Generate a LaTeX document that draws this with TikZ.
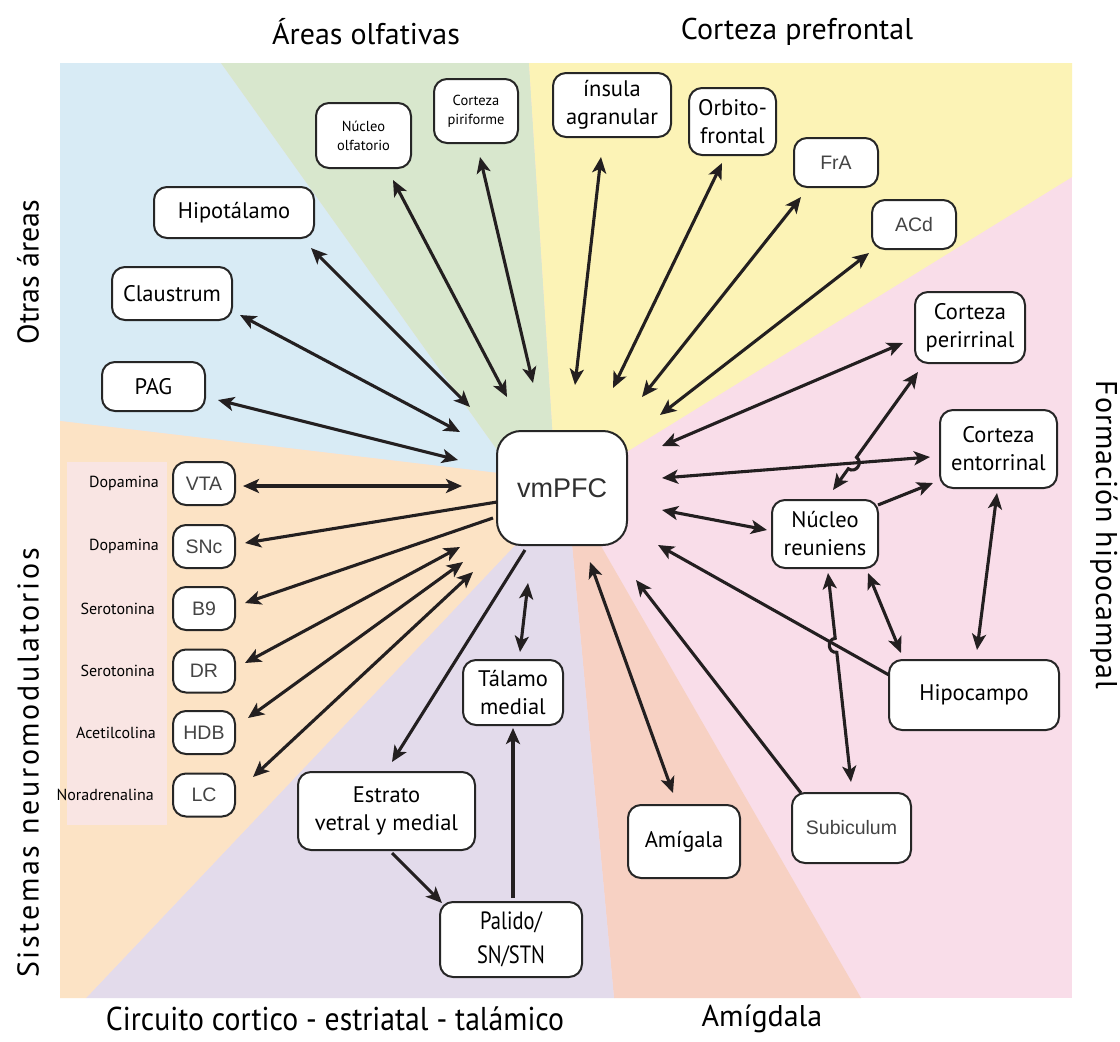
\documentclass[tikz,border=0pt]{standalone}
\usepackage{fontspec}
\setmainfont{PT Sans}
\newfontfamily\arialf{Liberation Sans}
\usetikzlibrary{arrows.meta,calc}
\definecolor{cblue}{HTML}{D8EBF5}
\definecolor{cgreen}{HTML}{D8E7CD}
\definecolor{cyellow}{HTML}{FCF3B6}
\definecolor{cpink}{HTML}{F9DDE9}
\definecolor{corange}{HTML}{FCE3C5}
\definecolor{cpurple}{HTML}{E3DBEB}
\definecolor{csalmon}{HTML}{F7D1C3}
\definecolor{cpale}{HTML}{F9E5E3}
\definecolor{boxc}{HTML}{262626}
\definecolor{arrc}{HTML}{231F20}
\definecolor{greytxt}{HTML}{444444}
\begin{document}
\begin{tikzpicture}[x=1pt,y=-1pt,
  box/.style={draw=boxc, line width=2pt, rounded corners=13pt, fill=white, align=center, inner sep=0pt},
  sz/.style 2 args={minimum width=#1pt, minimum height=#2pt},
  both/.style={line width=3.1pt, draw=arrc, {Stealth[length=16pt,width=14pt,inset=4pt]}-{Stealth[length=16pt,width=14pt,inset=4pt]}},
  one/.style={line width=3.1pt, draw=arrc, -{Stealth[length=16pt,width=14pt,inset=4pt]}},
  ttl/.style={font=\fontsize{30}{34}\selectfont},
  nt/.style={font=\fontsize{16}{19}\selectfont, anchor=east, inner sep=0pt},
  sm/.style={font=\fontsize{14.5}{19}\selectfont},
  md/.style={font=\fontsize{22.5}{28}\selectfont},
  ar/.style={font=\arialf\fontsize{19.5}{22}\selectfont, text=greytxt}
]
\useasboundingbox (0,0) rectangle (1120,1042);
\fill[white] (0,0) rectangle (1120,1042);
% sectors
\fill[cpink] (60,63) rectangle (1072,998);
\fill[cblue] (60,63) -- (221,63) -- (515,475) -- (60,421) -- cycle;
\fill[cgreen] (221,63) -- (529,63) -- (555,470) -- (515,475) -- cycle;
\fill[cyellow] (529,63) -- (1072,63) -- (1072,177) -- (620,456) -- (555,470) -- cycle;
\fill[csalmon] (586,520) -- (861,998) -- (614,998) -- (566,480) -- cycle;
\fill[cpurple] (566,480) -- (614,998) -- (86,998) -- (520,540) -- cycle;
\fill[corange] (60,421) -- (515,475) -- (520,540) -- (86,998) -- (60,998) -- cycle;
\fill[cpale] (67,462) rectangle (167,825);

% titles
\node[ttl] (t1) at (366,32) {Áreas olfativas};
\node[ttl] (t2) at (797,32) {Corteza prefrontal};
\node[ttl, rotate=90] (t3) at (28,272) {Otras áreas};
\node[ttl, rotate=90] (t4) at (28,763) {\addfontfeatures{LetterSpace=9}Sistemas neuromodulatorios};
\node[ttl, rotate=-90] (t5) at (1104,535) {\addfontfeatures{LetterSpace=3}Formación hipocampal};
\node[ttl, font=\fontsize{33}{36}\selectfont] (t6) at (335,1019) {\scalebox{0.9}[1]{Circuito cortico - estriatal - talámico}};
\node[ttl] (t7) at (762,1019) {Amígdala};

% nodes
\node[box, sz={130}{114}, rounded corners=24pt, font=\arialf\fontsize{27}{30}\selectfont, text=greytxt!70!black] (vmPFC) at (562,488) {vmPFC};
\node[box, sz={95}{65}, sm] (nucolf) at (363.5,135.5) {Núcleo\\olfatorio};
\node[box, sz={84}{64}, sm] (piri) at (476,111) {Corteza\\piriforme};
\node[box, sz={118}{64}, md] (insula) at (612,105) {ínsula\\agranular};
\node[box, sz={87}{67}, md] (orbito) at (732.5,121.5) {Orbito-\\frontal};
\node[box, sz={84}{49}, ar] (fra) at (836,162.5) {FrA};
\node[box, sz={84}{49}, ar] (acd) at (914,224.5) {ACd};
\node[box, sz={160}{51}, md] (hipot) at (234,212.5) {Hipotálamo};
\node[box, sz={120}{53}, md] (claus) at (172,293.5) {Claustrum};
\node[box, sz={103}{49}, md] (pag) at (153.5,386.5) {PAG};
\node[box, sz={62}{43}, ar] (vta) at (204,483.5) {VTA};
\node[box, sz={62}{43}, ar] (snc) at (204,546.5) {SNc};
\node[box, sz={62}{43}, ar] (b9) at (204,608.5) {B9};
\node[box, sz={62}{43}, ar] (dr) at (204,671) {DR};
\node[box, sz={62}{43}, ar] (hdb) at (204,732.5) {HDB};
\node[box, sz={62}{43}, ar] (lc) at (204,795) {LC};
\node[nt] (l1) at (159,483.5) {Dopamina};
\node[nt] (l2) at (159,546.5) {Dopamina};
\node[nt] (l3) at (155,608.5) {Serotonina};
\node[nt] (l4) at (155,671) {Serotonina};
\node[nt] (l5) at (156,732.5) {Acetilcolina};
\node[nt] (l6) at (154,795) {Noradrenalina};
\node[box, sz={110}{71}, md] (peri) at (970,327.5) {Corteza\\perirrinal};
\node[box, sz={117}{78}, md] (ento) at (998.5,449) {Corteza\\entorrinal};
\node[box, sz={106}{68}, md] (reun) at (825,534) {Núcleo\\reuniens};
\node[box, sz={170}{70}, md] (hipo) at (974,695) {Hipocampo};
\node[box, sz={119}{70}, ar] (subi) at (851.5,828) {Subiculum};
\node[box, sz={112}{73}, md] (amig) at (684,841.5) {Amígala};
\node[box, sz={100}{65}, md] (tal) at (513,692.5) {Tálamo\\medial};
\node[box, sz={177}{78}, md] (estr) at (386.5,811) {Estrato\\vetral y medial};
\node[box, sz={142}{75}, font=\fontsize{25}{34}\selectfont] (pal) at (511,939.5) {\scalebox{0.82}[1]{Palido/}\\\scalebox{0.82}[1]{SN/STN}};

% connectors: top
\draw[both] ($(nucolf)+(29.5,44.5)$) -- ($(vmPFC)+(-55,-91)$);
\draw[both] ($(piri)+(4,46)$) -- ($(vmPFC)+(-29,-105)$);
\draw[both] ($(insula)+(-11,52)$) -- ($(vmPFC)+(13,-103)$);
\draw[both] ($(orbito)+(-10.5,41.5)$) -- ($(vmPFC)+(51,-100)$);
\draw[both] ($(fra)+(-35,34.5)$) -- ($(vmPFC)+(80,-91)$);
\draw[both] ($(acd)+(-45,28.5)$) -- ($(vmPFC)+(98,-73)$);
% right
\draw[both] ($(peri)+(-67,15.5)$) -- ($(vmPFC)+(100,-42)$);
\draw[both] ($(ento)+(-68.5,8)$) -- ($(vmPFC)+(100,-10)$);
\draw[both] ($(reun)+(-58,-4)$) -- ($(vmPFC)+(100,22)$);
\draw[one] ($(hipo)+(-85,-20)$) -- ($(vmPFC)+(96,57)$);
\draw[one] ($(subi)+(-50.5,-35)$) -- ($(vmPFC)+(74,92)$);
\draw[both] ($(amig)+(-11,-48.5)$) -- ($(vmPFC)+(28,74)$);
% left
\draw[both] ($(hipot)+(77,35.5)$) -- ($(vmPFC)+(-92,-81)$);
\draw[both] ($(claus)+(68,21.5)$) -- ($(vmPFC)+(-102,-56)$);
\draw[both] ($(pag)+(64.5,13.5)$) -- ($(vmPFC)+(-104,-28)$);
\draw[both] ($(vta)+(39,2.5)$) -- ($(vmPFC)+(-100,-2)$);
\draw[one] ($(vmPFC)+(-65,14)$) -- ($(snc)+(41,-3.5)$);
\draw[one] ($(vmPFC)+(-69,30)$) -- ($(b9)+(41,-5.5)$);
\draw[both] ($(vmPFC)+(-102,59)$) -- ($(dr)+(41,-8)$);
\draw[both] ($(vmPFC)+(-99,74)$) -- ($(hdb)+(44,-14.5)$);
\draw[both] ($(vmPFC)+(-89,84)$) -- ($(lc)+(49,-18)$);
% bottom
\draw[one] ($(vmPFC)+(-37,62)$) -- ($(estr)+(5.5,-49)$);
\draw[both] ($(vmPFC)+(-34,95)$) -- ($(tal)+(7,-40.5)$);
\draw[one] ($(estr)+(5.5,42)$) -- ($(pal)+(-69,-36.5)$);
\draw[one] ($(pal)+(2,-41.5)$) -- ($(tal)+(0,35.5)$);
% hippocampal formation internal
\draw[both] ($(peri)+(-52,44.5)$) -- (856.5,457.3) .. controls (863.8,462.6) and (855.6,474.0) .. (848.3,468.7) -- ($(reun)+(8,-44)$);
\draw[one] ($(reun)+(53,-29)$) -- ($(ento)+(-65.5,34)$);
\draw[both] ($(hipo)+(3,-45)$) -- ($(ento)+(-1.5,44)$);
\draw[both] ($(reun)+(43,39)$) -- ($(hipo)+(-73,-42)$);
\draw[both] ($(reun)+(3,39)$) -- (835.2,638.3) .. controls (826.3,639.3) and (827.9,653.3) .. (836.8,652.3) -- ($(subi)+(-0.5,-46)$);
\end{tikzpicture}
\end{document}
